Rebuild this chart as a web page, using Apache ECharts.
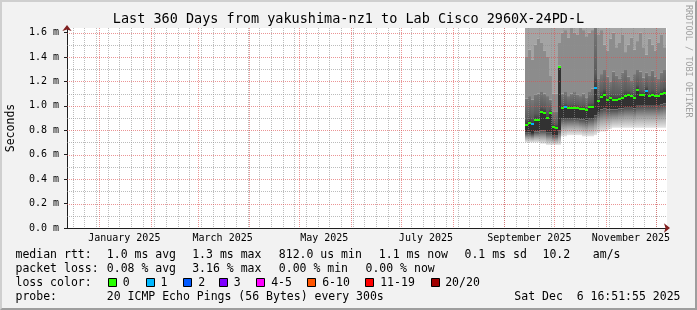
<!DOCTYPE html>
<html><head><meta charset="utf-8">
<script src="https://cdn.jsdelivr.net/npm/echarts@6/dist/echarts.min.js"></script>
<style>
html,body{margin:0;padding:0;background:#f2f2f2;overflow:hidden;}
#c{position:absolute;left:0;top:0;width:697px;height:310px;}
#frame{position:absolute;left:0;top:0;width:697px;height:310px;box-sizing:border-box;border-top:2px solid #cfcfcf;border-left:2px solid #cfcfcf;border-right:2px solid #9e9e9e;border-bottom:2px solid #9e9e9e;pointer-events:none;}
</style></head><body>
<div id="c"></div><div id="frame"></div>
<script>
const DAY = 86400000;
// ---- axis / text data ----
const title = 'Last 360 Days from yakushima-nz1 to Lab Cisco 2960X-24PD-L';
const axisStart = Date.UTC(2024, 11, 12, 14, 53);
const axisDays = 360;
const yMax = 1.637;
const yTickValues = [0, 0.2, 0.4, 0.6, 0.8, 1.0, 1.2, 1.4, 1.6];
const yMinorValues = [0.1, 0.3, 0.5, 0.7, 0.9, 1.1, 1.3, 1.5];
const monthLabels = ['January 2025', 'March 2025', 'May 2025', 'July 2025', 'September 2025', 'November 2025'];
const monthLabelDates = [[2025,0,16],[2025,2,16],[2025,4,16],[2025,6,16],[2025,8,16],[2025,10,16]];
const monthStarts = [[2025,0,1],[2025,1,1],[2025,2,1],[2025,3,1],[2025,4,1],[2025,5,1],[2025,6,1],[2025,7,1],[2025,8,1],[2025,9,1],[2025,10,1],[2025,11,1]];
const firstMonday = [2024, 11, 16];

// ---- smoke data: one bucket every 1.8 days ----
const bucketStart = Date.UTC(2025, 8, 13, 10, 0);
const bucketDays = 1.8;
const median = [0.84,0.862,0.853,0.886,0.88,0.95,0.945,0.90,0.94,0.83,0.818,1.314,0.982,0.987,0.982,0.982,0.982,0.98,0.975,0.975,0.962,0.99,0.99,1.146,1.036,1.072,1.091,1.045,1.064,1.045,1.045,1.055,1.066,1.08,1.085,1.08,1.064,1.132,1.085,1.09,1.125,1.08,1.085,1.083,1.08,1.095,1.105];
const lossCount = [0,0,1,0,0,0,0,0,0,0,0,0,0,1,0,0,0,0,0,0,0,0,0,1,0,0,0,0,0,0,0,0,0,0,0,0,0,0,0,0,1,0,0,0,0,0,0];
const smokeLo = [0.70,0.70,0.70,0.70,0.70,0.69,0.69,0.68,0.68,0.68,0.68,0.68,0.75,0.75,0.76,0.76,0.76,0.76,0.76,0.75,0.75,0.75,0.75,0.76,0.78,0.79,0.79,0.80,0.81,0.82,0.82,0.82,0.82,0.82,0.82,0.82,0.82,0.82,0.82,0.82,0.82,0.82,0.82,0.82,0.82,0.82,0.82];
const smokeDk = [0.78,0.78,0.77,0.79,0.79,0.80,0.80,0.78,0.78,0.76,0.76,0.80,0.90,0.90,0.90,0.90,0.90,0.90,0.89,0.89,0.88,0.90,0.90,0.92,0.95,0.97,0.98,0.97,0.97,0.97,0.97,0.98,0.98,0.99,0.99,0.99,0.98,1.00,1.00,1.00,1.00,1.00,1.00,1.00,1.00,1.01,1.02];
const smokeUp = [1.06,1.08,1.05,1.09,1.10,1.12,1.10,1.08,1.05,0.95,0.95,1.33,1.10,1.12,1.08,1.10,1.12,1.09,1.08,1.10,1.07,1.12,1.14,1.64,1.22,1.26,1.30,1.24,1.20,1.28,1.25,1.22,1.27,1.30,1.24,1.21,1.26,1.30,1.28,1.23,1.27,1.25,1.29,1.24,1.22,1.27,1.30];
const smokeMid = [1.40,1.46,1.38,1.50,1.55,1.52,1.45,1.40,1.25,1.10,1.10,1.52,1.60,1.62,1.56,1.64,1.60,1.58,1.64,1.62,1.57,1.60,1.62,1.64,1.58,1.62,1.50,1.45,1.55,1.60,1.48,1.52,1.58,1.44,1.50,1.56,1.46,1.53,1.60,1.48,1.42,1.55,1.50,1.45,1.52,1.58,1.48];
const smokeTop = [1.70,1.70,1.70,1.70,1.70,1.70,1.70,1.70,1.70,1.70,1.70,1.70,1.70,1.70,1.70,1.70,1.70,1.70,1.70,1.70,1.70,1.70,1.70,1.70,1.70,1.70,1.70,1.70,1.70,1.70,1.70,1.70,1.70,1.70,1.70,1.70,1.70,1.70,1.70,1.70,1.70,1.70,1.70,1.70,1.70,1.70,1.70];

// ---- legend data ----
const lossLegend = [['0','#26ff00'],['1','#00b8ff'],['2','#0059ff'],['3','#7e00ff'],['4-5','#ff00ff'],['6-10','#ff5500'],['11-19','#ff0000'],['20/20','#a00000']];
const lossThresholds = [0,1,2,3,5,10,19,20];
const row1 = ['median rtt:','1.0 ms avg','1.3 ms max','812.0 us min','1.1 ms now','0.1 ms sd','10.2','am/s'];
const row2 = ['packet loss:','0.08 % avg','3.16 % max','0.00 % min','0.00 % now'];
const row4 = ['probe:','20 ICMP Echo Pings (56 Bytes) every 300s','Sat Dec  6 16:51:55 2025'];

// ---- build ----
const FONT = '"DejaVu Sans Mono", monospace';
const axisEnd = axisStart + axisDays * DAY;
const utc = a => Date.UTC(a[0], a[1], a[2]);
const labelTimes = monthLabelDates.map(utc);
const bucketTime = i => bucketStart + (i + 0.5) * bucketDays * DAY;
const half = bucketDays * DAY / 2;
function lossColor(n){ for (let k=0;k<lossThresholds.length;k++){ if (n<=lossThresholds[k]) return lossLegend[k][1]; } return '#a00000'; }

const weekTimes = [];
for (let t = utc(firstMonday); t < axisEnd; t += 7*DAY) weekTimes.push(t);
const monthTimes = monthStarts.map(utc);

const smokeData = median.map((m,i)=>[bucketTime(i), smokeLo[i], smokeDk[i], m, smokeUp[i], smokeMid[i], smokeTop[i]]);
const medData = median.map((m,i)=>[bucketTime(i), m, lossCount[i]]);

function xSpan(api, t){
  return [Math.round(api.coord([t-half,0])[0]), Math.round(api.coord([t+half,0])[0])];
}
function smokeItem(params, api){
  const t = api.value(0);
  const [xa, xb] = xSpan(api, t);
  const y = k => api.coord([t, api.value(k)])[1];
  const yLo=y(1), yDk=y(2), yMed=y(3), yUp=y(4), yMid=y(5), yTop=y(6);
  const rect = (y1,y2,fill) => ({type:'rect', shape:{x:xa, y:Math.min(y1,y2), width:xb-xa, height:Math.abs(y2-y1)}, style:{fill}});
  return {type:'group', children:[
    rect(yTop,yMid,'#a4a4a4'),
    rect(yMid,yUp,'#8c8c8c'),
    rect(yUp,yMed,new echarts.graphic.LinearGradient(0,0,0,1,[{offset:0,color:'#787878'},{offset:0.75,color:'#5c5c5c'},{offset:1,color:'#3a3a3a'}])),
    rect(yMed,yDk,'#323232'),
    rect(yDk,yLo,new echarts.graphic.LinearGradient(0,0,0,1,[{offset:0,color:'#4a4a4a'},{offset:0.5,color:'#a0a0a0'},{offset:1,color:'#e6e6e6'}]))
  ]};
}
function medItem(params, api){
  const t = api.value(0);
  const [xa, xb] = xSpan(api, t);
  const yc = Math.round(api.coord([t, api.value(1)])[1]);
  return {type:'rect', shape:{x:xa, y:yc-1, width:xb-xa, height:2}, style:{fill: lossColor(api.value(2))}};
}
function vGrid(color){
  return function(params, api){
    const cs = params.coordSys;
    const x = Math.round(api.coord([api.value(0), 0])[0]) + 0.5;
    return {type:'line', shape:{x1:x, y1:cs.y, x2:x, y2:cs.y+cs.height}, style:{stroke:color, lineWidth:1, lineDash:[1,1]}};
  };
}
function hGrid(color){
  return function(params, api){
    const cs = params.coordSys;
    const y = Math.round(api.coord([axisStart, api.value(1)])[1]) + 0.5;
    return {type:'line', shape:{x1:cs.x, y1:y, x2:cs.x+cs.width, y2:y}, style:{stroke:color, lineWidth:1, lineDash:[1,1]}};
  };
}

const graphics = [];
const txt = (x,y,text,opt={}) => graphics.push(Object.assign({type:'text', x, y, silent:true, style:Object.assign({text, font:'11.5px '+FONT, fill:'#000', align:'left', verticalAlign:'middle'}, opt.style||{})}, opt.el||{}));
txt(348.5, 19.5, title, {style:{font:'13.5px '+FONT, align:'center'}});
txt(11, 128, 'Seconds', {style:{align:'center'}, el:{rotation: Math.PI/2}});
txt(688, 5, 'RRDTOOL / TOBI OETIKER', {style:{font:'8.5px '+FONT, fill:'#a0a0a0', align:'left'}, el:{rotation: -Math.PI/2}});
const r1x = [16,107.3,192.7,279.3,379.3,465,543,593.3];
row1.forEach((s,i)=>txt(r1x[i]-0.5, 254.8, s));
const r2x = [16,107.3,192.7,279.3,366];
row2.forEach((s,i)=>txt(r2x[i]-0.5, 268.8, s));
txt(15.5, 282.8, 'loss color:');
const boxX = [108.3,145.7,182.7,219.3,256,307.3,365,430.7];
const labX = [123.3,161,198.7,234.3,271.7,322.7,380.7,445.7];
lossLegend.forEach((l,i)=>{
  graphics.push({type:'rect', silent:true, shape:{x:Math.round(boxX[i])+0.5, y:278.5, width:8, height:8}, style:{fill:l[1], stroke:'#000', lineWidth:1}});
  txt(labX[i]-0.5, 282.8, l[0]);
});
txt(15.5, 296.8, row4[0]);
txt(106.8, 296.8, row4[1]);
txt(680.5, 296.8, row4[2], {style:{align:'right'}});

const GRID_MINOR = 'rgba(143,143,143,0.6)';
const GRID_MAJOR = 'rgba(222,79,79,0.6)';

const option = {
  animation:false,
  backgroundColor:'#f2f2f2',
  grid:{left:67, top:28, width:600, height:200, containLabel:false, outerBoundsMode:'none', show:true, backgroundColor:'#ffffff', borderWidth:0},
  xAxis:[
    {type:'value', min:axisStart, max:axisEnd, position:'bottom',
     axisLine:{show:true, lineStyle:{color:'#801f1f', width:1}, symbol:['none','arrow'], symbolSize:[7,6], symbolOffset:[0,3]},
     axisTick:{show:false}, axisLabel:{show:false}, splitLine:{show:false}},
    {type:'value', min:axisStart, max:axisEnd, position:'bottom', offset:0,
     axisLine:{show:true, lineStyle:{color:'#1f1f1f', width:1}},
     axisTick:{show:false}, splitLine:{show:false},
     axisLabel:{customValues:labelTimes, margin:5, color:'#000', fontFamily:'DejaVu Sans Mono', fontSize:10,
       formatter:(v)=>{ const k = labelTimes.indexOf(v); return k>=0 ? monthLabels[k] : ''; }}}
  ],
  yAxis:[
    {type:'value', min:0, max:yMax, position:'left',
     axisLine:{show:true, lineStyle:{color:'#801f1f', width:1}, symbol:['none','arrow'], symbolSize:[7,6], symbolOffset:[0,3]},
     axisTick:{show:false}, axisLabel:{show:false}, splitLine:{show:false}},
    {type:'value', min:0, max:yMax, position:'left', offset:0,
     axisLine:{show:true, lineStyle:{color:'#1f1f1f', width:1}},
     axisTick:{show:true, customValues:yTickValues, length:3, lineStyle:{color:'#1f1f1f'}},
     splitLine:{show:false},
     axisLabel:{customValues:yTickValues, margin:8, color:'#000', fontFamily:'DejaVu Sans Mono', fontSize:10,
       formatter:(v)=> v.toFixed(1)+' m'}}
  ],
  graphic: graphics,
  series:[
    {type:'custom', name:'smoke', xAxisIndex:0, yAxisIndex:0, clip:true, z:2, silent:true,
     renderItem: smokeItem, encode:{x:0, y:[1,2,3,4,5,6]}, data: smokeData},
    {type:'custom', name:'vgrid-minor', xAxisIndex:0, yAxisIndex:0, z:3, silent:true,
     renderItem: vGrid(GRID_MINOR), encode:{x:0}, data: weekTimes.map(t=>[t, 0])},
    {type:'custom', name:'hgrid-minor', xAxisIndex:0, yAxisIndex:0, z:3, silent:true,
     renderItem: hGrid(GRID_MINOR), encode:{y:1}, data: yMinorValues.map(v=>[axisStart, v])},
    {type:'custom', name:'vgrid-major', xAxisIndex:0, yAxisIndex:0, z:4, silent:true,
     renderItem: vGrid(GRID_MAJOR), encode:{x:0}, data: monthTimes.map(t=>[t, 0])},
    {type:'custom', name:'hgrid-major', xAxisIndex:0, yAxisIndex:0, z:4, silent:true,
     renderItem: hGrid(GRID_MAJOR), encode:{y:1}, data: yTickValues.slice(1).map(v=>[axisStart, v])},
    {type:'custom', name:'median', xAxisIndex:0, yAxisIndex:0, clip:true, z:5, silent:true,
     renderItem: medItem, encode:{x:0, y:1}, data: medData}
  ]
};
const chart = echarts.init(document.getElementById('c'), null, {renderer:'canvas', width:697, height:310});
chart.setOption(option);
</script></body></html>
